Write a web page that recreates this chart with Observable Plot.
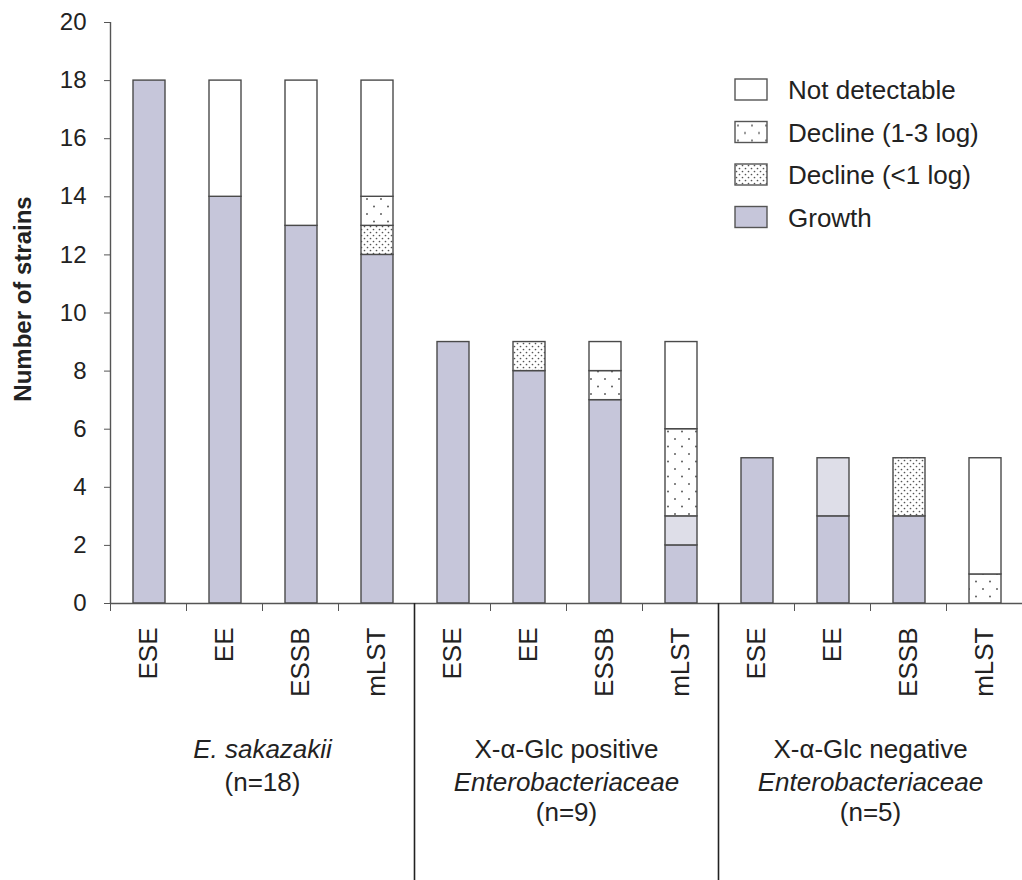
<!DOCTYPE html>
<html>
<head>
<meta charset="utf-8">
<script src="https://cdn.jsdelivr.net/npm/d3@7"></script>
<script src="https://cdn.jsdelivr.net/npm/@observablehq/plot@0.6"></script>
<style>
  html, body { margin: 0; padding: 0; background: #fff; }
  #chart { width: 1022px; height: 880px; }
  svg { font-family: "Liberation Sans", Arial, sans-serif; }
</style>
</head>
<body>
<div id="chart"></div>
<script>
// ---- data ----
const groupLines = [
  ["E. sakazakii", "(n=18)"],
  ["X-α-Glc positive", "Enterobacteriaceae", "(n=9)"],
  ["X-α-Glc negative", "Enterobacteriaceae", "(n=5)"]
];
const italicLines = ["E. sakazakii", "Enterobacteriaceae"];
const methods = ["ESE", "EE", "ESSB", "mLST"];
const statuses = ["Growth", "Growth (light)", "Decline (<1 log)", "Decline (1-3 log)", "Not detectable"];
const legendItems = ["Not detectable", "Decline (1-3 log)", "Decline (<1 log)", "Growth"];
const yTicks = [0, 2, 4, 6, 8, 10, 12, 14, 16, 18, 20];
const yTitle = "Number of strains";

// bar values, order: 3 groups x 4 methods
const growth        = [18, 14, 13, 12,  9, 8, 7, 2,  5, 3, 3, 0];
const growthLight   = [ 0,  0,  0,  0,  0, 0, 0, 1,  0, 2, 0, 0];
const declineLt1    = [ 0,  0,  0,  1,  0, 1, 0, 0,  0, 0, 2, 0];
const decline1to3   = [ 0,  0,  0,  1,  0, 0, 1, 3,  0, 0, 0, 1];
const notDetectable = [ 0,  4,  5,  4,  0, 0, 1, 3,  0, 0, 0, 4];

const seriesValues = [growth, growthLight, declineLt1, decline1to3, notDetectable];
const colors = ["#c6c6da", "#dedee8", "url(#dense)", "url(#sparse)", "#ffffff"];

// ---- derived table ----
const barCount = groupLines.length * methods.length;
const table = [];
for (let i = 0; i < barCount; i++) {
  statuses.forEach((s, k) => {
    table.push({i0: i, i1: i + 1, status: s, value: seriesValues[k][i]});
  });
}
const centers = d3.range(barCount).map(i => i + 0.5);
const boundaries = d3.range(barCount + 1);
const groupBoundaries = d3.range(1, groupLines.length).map(g => g * methods.length);
const smallTicks = boundaries.filter(b => !groupBoundaries.includes(b));
const labelRows = [];
groupLines.forEach((lines, g) => lines.forEach((t, k) => labelRows.push({
  x: g * methods.length + methods.length / 2, line: k, text: t, italic: italicLines.includes(t)
})));

const textColor = "#222";
const lineColor = "#555";
const lineDy = [154, 187, 217];

const groupTextMarks = [];
lineDy.forEach((dy, k) => {
  [false, true].forEach(it => {
    const rows = labelRows.filter(d => d.line === k && d.italic === it);
    if (rows.length) groupTextMarks.push(Plot.text(rows, {
      x: "x", y: () => 0, text: "text", fontSize: 26, lineAnchor: "bottom", fill: textColor,
      fontStyle: it ? "italic" : "normal", dy
    }));
  });
});

const svg = Plot.plot({
  width: 1022,
  height: 880,
  marginLeft: 110,
  marginRight: 0,
  marginTop: 22,
  marginBottom: 277,
  style: {fontFamily: "'Liberation Sans', Arial, sans-serif", color: textColor, background: "#fff"},
  x: {domain: [0, barCount]},
  y: {domain: [0, 20]},
  color: {domain: statuses, range: colors},
  marks: [
    Plot.rectY(table, Plot.stackY({
      x1: "i0", x2: "i1", y: "value", fill: "status", order: statuses,
      insetLeft: 23, insetRight: 21, stroke: "#4a4a4a", strokeWidth: 1.4
    })),
    Plot.ruleX([0], {y1: 0, y2: 20, stroke: lineColor, strokeWidth: 1.4}),
    Plot.ruleY([0], {stroke: lineColor, strokeWidth: 1.4}),
    Plot.axisY({ticks: yTicks, tickSize: 6, tickPadding: 18, fontSize: 24, label: null, stroke: lineColor}),
    Plot.axisX({ticks: smallTicks, tickSize: 8, tickFormat: () => "", label: null, stroke: lineColor}),
    Plot.axisX({ticks: groupBoundaries, tickSize: 277, tickFormat: () => "", label: null, stroke: "#222", strokeWidth: 1.6}),
    Plot.axisX({ticks: centers, tickSize: 0, tickPadding: 24, tickRotate: -90, fontSize: 26, label: null,
      tickFormat: d => methods[Math.floor(d) % methods.length]}),
    ...groupTextMarks
  ]
});

// patterns
const sel = d3.select(svg);
const defs = sel.insert("defs", ":first-child");
const dense = defs.append("pattern").attr("id", "dense").attr("patternUnits", "userSpaceOnUse")
  .attr("width", 6).attr("height", 6);
dense.append("rect").attr("width", 6).attr("height", 6).attr("fill", "#fff");
dense.append("circle").attr("cx", 1.5).attr("cy", 1.5).attr("r", 0.85).attr("fill", "#555");
dense.append("circle").attr("cx", 4.5).attr("cy", 4.5).attr("r", 0.85).attr("fill", "#555");
const sparse = defs.append("pattern").attr("id", "sparse").attr("patternUnits", "userSpaceOnUse")
  .attr("width", 14).attr("height", 15);
sparse.append("rect").attr("width", 14).attr("height", 15).attr("fill", "#fff");
sparse.append("circle").attr("cx", 3).attr("cy", 4).attr("r", 0.95).attr("fill", "#555");
sparse.append("circle").attr("cx", 10).attr("cy", 11.5).attr("r", 0.95).attr("fill", "#555");

// y title
sel.append("text").attr("transform", "translate(22, 299) rotate(-90)")
  .attr("text-anchor", "middle").attr("dominant-baseline", "central")
  .attr("font-size", 24).attr("font-weight", "bold").attr("fill", textColor).text(yTitle);

// legend
const color = d3.scaleOrdinal(statuses, colors);
const lg = sel.append("g").attr("class", "legend").attr("text-anchor", "start");
legendItems.forEach((name, k) => {
  const row = lg.append("g").attr("transform", `translate(735, ${79 + 42.5 * k})`);
  row.append("rect").attr("width", 32).attr("height", 21)
    .attr("fill", color(name)).attr("stroke", lineColor).attr("stroke-width", 1.4);
  row.append("text").attr("x", 53).attr("y", 20).attr("font-size", 26).attr("fill", textColor)
    .attr("text-anchor", "start").text(name);
});

document.getElementById("chart").appendChild(svg);
</script>
</body>
</html>
